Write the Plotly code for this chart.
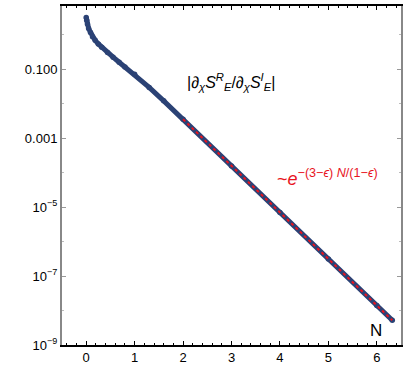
import plotly.graph_objects as go

# ratio |d_chi S_E^R / d_chi S_E^I| versus N
n_vals = [0.00, 0.01, 0.025, 0.05, 0.088, 0.13, 0.185, 0.25, 0.32, 0.44,
          0.555, 0.68, 0.80, 1.00, 1.30, 1.60, 2.00, 3.00, 4.00, 5.00,
          6.00, 6.32]
ratio_vals = [3.16, 2.63, 2.04, 1.51, 1.16, 0.87, 0.684, 0.537, 0.427, 0.302,
              0.221, 0.158, 0.115, 0.0708, 0.0295, 0.012, 3.5e-3, 1.55e-4, 7.0e-6, 3.1e-7,
              1.4e-8, 5.2e-9]

# asymptotic fit ~ exp(-(3-eps) N / (1-eps))
fit_n = [2.0, 6.32]
fit_vals = [3.5e-3, 5.2e-9]

ytick_vals = [1e-9, 1e-7, 1e-5, 1e-3, 1e-1]
ytick_text = ["10<sup>−9</sup>", "10<sup>−7</sup>", "10<sup>−5</sup>", "0.001", "0.100"]

fig = go.Figure()

fig.add_trace(go.Scatter(
    x=n_vals, y=ratio_vals, mode="lines+markers",
    line=dict(color="#2B4275", width=5),
    marker=dict(color="#2B4275", size=5.5),
    showlegend=False,
))

fig.add_trace(go.Scatter(
    x=fit_n, y=fit_vals, mode="lines",
    line=dict(color="#E8141E", width=2, dash="dot"),
    showlegend=False,
))

fig.add_annotation(
    x=2.98, y=-1.37, xref="x", yref="y", showarrow=False,
    text="|∂<sub><i>χ</i></sub><i>S</i><sup><i>R</i></sup><sub><i>E</i></sub>"
         "/∂<sub><i>χ</i></sub><i>S</i><sup><i>I</i></sup><sub><i>E</i></sub>|",
    font=dict(size=16, color="black"),
)

fig.add_annotation(
    x=3.9, y=-4.15, xref="x", yref="y", showarrow=False, xanchor="left",
    text="~<i>e</i><sup>−(3−<i>ϵ</i>) <i>N</i>/(1−<i>ϵ</i>)</sup>",
    font=dict(size=18, color="#E8141E"),
)

fig.add_annotation(
    x=5.99, y=-8.57, xref="x", yref="y", showarrow=False,
    text="N", font=dict(size=17, color="black"),
)

fig.update_xaxes(
    range=[-0.5, 6.5], tickvals=[0, 1, 2, 3, 4, 5, 6],
    ticks="inside", ticklen=4, tickcolor="black",
    minor=dict(dtick=0.2, tick0=0, ticks="inside", ticklen=2, tickcolor="black"),
    showline=True, linecolor="black", linewidth=1.5, mirror="allticks",
    showgrid=False, zeroline=False,
    tickfont=dict(family="Liberation Sans, Arial", size=13, color="black"),
)

fig.update_yaxes(
    type="log", range=[-9, 0.83],
    tickvals=ytick_vals, ticktext=ytick_text,
    ticks="inside", ticklen=4, tickcolor="#999999",
    minor=dict(tickvals=[1e-8, 1e-6, 1e-4, 1e-2, 1], ticks="inside", ticklen=2, tickcolor="#bbbbbb"),
    showline=True, linecolor="#888888", linewidth=2, mirror="allticks",
    showgrid=False, zeroline=False,
    tickfont=dict(family="Liberation Sans, Arial", size=13, color="black"),
)

fig.update_layout(
    width=407, height=391,
    margin=dict(l=62, r=5, t=4, b=46),
    plot_bgcolor="white", paper_bgcolor="white",
    font=dict(family="Liberation Sans, Arial"),
)

fig.write_html("out.html", config={"displayModeBar": False},
               post_script="document.body.style.margin='0';")
